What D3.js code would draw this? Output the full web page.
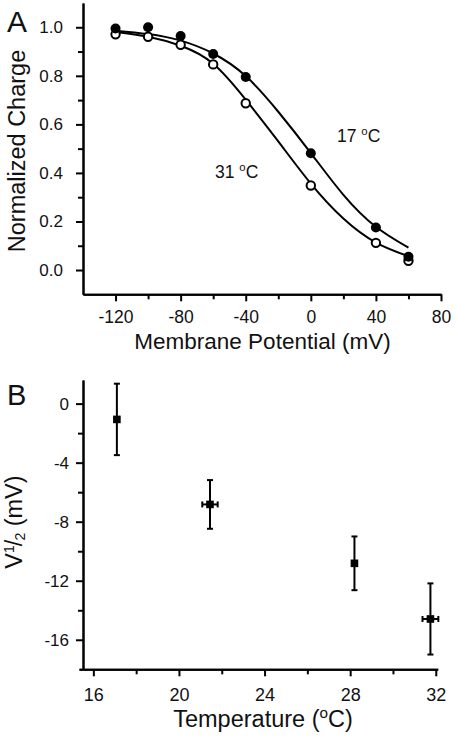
<!DOCTYPE html>
<html><head><meta charset="utf-8">
<script src="https://cdn.jsdelivr.net/npm/d3@7"></script>
<style>
body{margin:0;background:#fff}
svg{display:block}
text{font-family:"Liberation Sans",Arial,Helvetica,sans-serif;fill:#111}
</style>
</head><body>
<svg id="c" width="456" height="738"></svg>
<script>
// ---------- Panel A data ----------
const potentials = [-120, -100, -80, -60, -40, 0, 40, 60];
const charge17 = [0.995, 1.0, 0.964, 0.89, 0.795, 0.481, 0.175, 0.055];
const charge31 = [0.971, 0.961, 0.928, 0.847, 0.687, 0.348, 0.112, 0.038];
const fitPotentials = [-120, -100, -80, -60, -40, -20, 0, 20, 40, 60];
const fit17 = [0.986, 0.972, 0.945, 0.892, 0.799, 0.652, 0.482, 0.310, 0.178, 0.092];
const fit31 = [0.981, 0.961, 0.924, 0.850, 0.702, 0.530, 0.356, 0.212, 0.113, 0.057];
const xTicksA = [-120, -80, -40, 0, 40, 80];
const xMinorA = [-100, -60, -20, 20, 60];
const yTicksA = [0.0, 0.2, 0.4, 0.6, 0.8, 1.0];
const yMinorA = [0.1, 0.3, 0.5, 0.7, 0.9];

// ---------- Panel B data ----------
const temperatures = [17.1, 21.45, 28.2, 31.75];
const tempErr = [0, 0.36, 0, 0.37];
const vHalf = [-1.07, -6.83, -10.82, -14.59];
const vHalfErr = [2.42, 1.65, 1.82, 2.41];
const xTicksB = [16, 20, 24, 28, 32];
const xMinorB = [18, 22, 26, 30];
const yTicksB = [0, -4, -8, -12, -16];
const yMinorB = [-2, -6, -10, -14];

const svg = d3.select("#c");
svg.append("rect").attr("width", 456).attr("height", 738).attr("fill", "#fff");

function styleAxis(g, fs) {
  g.selectAll("path.domain").attr("stroke", "#000").attr("stroke-width", 2);
  g.selectAll(".tick line").attr("stroke", "#000").attr("stroke-width", 2);
  g.selectAll(".tick text").attr("font-size", fs).attr("fill", "#111")
    .attr("font-family", '"Liberation Sans",Arial,sans-serif');
}

// ===== Panel A =====
const xA = d3.scaleLinear().domain([-140, 80]).range([83, 441]);
const yA = d3.scaleLinear().domain([-0.1, 1.1]).range([294.3, 3]);

svg.append("g").attr("transform", "translate(0,294.3)")
  .call(d3.axisBottom(xA).tickValues(xMinorA).tickSize(5).tickFormat("").tickSizeOuter(0))
  .call(g => styleAxis(g, 18));
svg.append("g").attr("transform", "translate(83,0)")
  .call(d3.axisLeft(yA).tickValues(yMinorA).tickSize(5).tickFormat("").tickSizeOuter(0))
  .call(g => styleAxis(g, 17));
svg.append("g").attr("transform", "translate(0,294.3)")
  .call(d3.axisBottom(xA).tickValues(xTicksA).tickSize(7).tickPadding(9)
    .tickFormat(d => String(d)).tickSizeOuter(0))
  .call(g => styleAxis(g, 17.5));
svg.append("g").attr("transform", "translate(83,0)")
  .call(d3.axisLeft(yA).tickValues(yTicksA).tickSize(7).tickPadding(13)
    .tickFormat(d3.format(".1f")).tickSizeOuter(0))
  .call(g => styleAxis(g, 17));

const lineA = d3.line().x(d => xA(d[0])).y(d => yA(d[1])).curve(d3.curveNatural);
[fit17, fit31].forEach(f => {
  svg.append("path").datum(fitPotentials.map((v, i) => [v, f[i]]))
    .attr("d", lineA).attr("fill", "none").attr("stroke", "#000").attr("stroke-width", 2);
});
svg.append("g").selectAll("circle").data(potentials.map((v, i) => [v, charge31[i]]))
  .join("circle").attr("cx", d => xA(d[0])).attr("cy", d => yA(d[1])).attr("r", 4.2)
  .attr("fill", "#fff").attr("stroke", "#000").attr("stroke-width", 2);
svg.append("g").selectAll("circle").data(potentials.map((v, i) => [v, charge17[i]]))
  .join("circle").attr("cx", d => xA(d[0])).attr("cy", d => yA(d[1])).attr("r", 5)
  .attr("fill", "#000");

function degLabel(x, y, pre, post, fs, anchor) {
  const t = svg.append("text").attr("x", x).attr("y", y).attr("font-size", fs)
    .attr("text-anchor", anchor || "start");
  t.append("tspan").text(pre);
  t.append("tspan").attr("font-size", fs * 0.65).attr("dy", -fs * 0.38).text("o");
  t.append("tspan").attr("dy", fs * 0.38).text(post);
  return t;
}
degLabel(337, 142, "17 ", "C", 17.5).attr("fill", "#222");
degLabel(215, 178, "31 ", "C", 17.5).attr("fill", "#222");

svg.append("text").attr("x", 262.5).attr("y", 349).attr("text-anchor", "middle")
  .attr("font-size", 22.5).text("Membrane Potential (mV)");
svg.append("text").attr("transform", "translate(25,151) rotate(-90)")
  .attr("text-anchor", "middle").attr("font-size", 23.5).text("Normalized Charge");
svg.append("text").attr("x", 7).attr("y", 31.7).attr("font-size", 30).text("A");

// ===== Panel B =====
const xB = d3.scaleLinear().domain([15.33, 32.09]).range([79, 437.7]);
const yB = d3.scaleLinear().domain([-18, 1.6]).range([669.3, 380]);

svg.append("g").attr("transform", "translate(0,669.3)")
  .call(d3.axisBottom(xB).tickValues(xMinorB).tickSize(5).tickFormat("").tickSizeOuter(0))
  .call(g => styleAxis(g, 18));
svg.append("g").attr("transform", "translate(83,0)")
  .call(d3.axisLeft(yB).tickValues(yMinorB).tickSize(5).tickFormat("").tickSizeOuter(0))
  .call(g => styleAxis(g, 17));
svg.append("g").attr("transform", "translate(0,669.3)")
  .call(d3.axisBottom(xB).tickValues(xTicksB).tickSize(7).tickPadding(12)
    .tickFormat(d => String(d)).tickSizeOuter(0))
  .call(g => styleAxis(g, 18));
svg.append("g").attr("transform", "translate(83,0)")
  .call(d3.axisLeft(yB).tickValues(yTicksB).tickSize(7).tickPadding(7)
    .tickFormat(d => String(d)).tickSizeOuter(0))
  .call(g => styleAxis(g, 17));

const ptsB = temperatures.map((t, i) => ({t, v: vHalf[i], ev: vHalfErr[i], et: tempErr[i]}));
const gB = svg.append("g").attr("stroke", "#000").attr("stroke-width", 2);
ptsB.forEach(p => {
  const cx = xB(p.t), cy = yB(p.v);
  const y1 = yB(p.v + p.ev), y2 = yB(p.v - p.ev);
  gB.append("line").attr("x1", cx).attr("x2", cx).attr("y1", y1).attr("y2", y2);
  gB.append("line").attr("x1", cx - 3).attr("x2", cx + 3).attr("y1", y1).attr("y2", y1);
  gB.append("line").attr("x1", cx - 3).attr("x2", cx + 3).attr("y1", y2).attr("y2", y2);
  if (p.et > 0) {
    const x1 = xB(p.t - p.et), x2 = xB(p.t + p.et);
    gB.append("line").attr("x1", x1).attr("x2", x2).attr("y1", cy).attr("y2", cy);
    gB.append("line").attr("x1", x1).attr("x2", x1).attr("y1", cy - 3).attr("y2", cy + 3);
    gB.append("line").attr("x1", x2).attr("x2", x2).attr("y1", cy - 3).attr("y2", cy + 3);
  }
  svg.append("rect").attr("x", cx - 3.8).attr("y", cy - 3.8).attr("width", 7.6).attr("height", 7.6)
    .attr("fill", "#000");
});

degLabel(263, 727, "Temperature (", "C)", 23.5, "middle");

const yt = svg.append("text").attr("transform", "translate(22,522) rotate(-90)")
  .attr("text-anchor", "middle").attr("font-size", 23.5);
yt.append("tspan").text("V");
yt.append("tspan").attr("font-size", 14).attr("dy", -8).text("1");
yt.append("tspan").attr("font-size", 23.5).attr("dy", 8).attr("dx", -1).text("/");
yt.append("tspan").attr("font-size", 14).attr("dy", 3).attr("dx", -1).text("2");
yt.append("tspan").attr("dy", -3).text(" (mV)");

svg.append("text").attr("x", 7).attr("y", 405).attr("font-size", 29).text("B");
</script>
</body></html>
